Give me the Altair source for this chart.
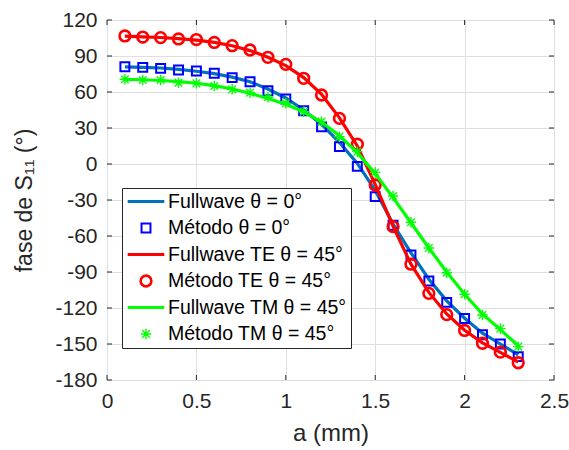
import altair as alt
import pandas as pd

# ---------------- data ----------------
a_mm = [0.1, 0.2, 0.3, 0.4, 0.5, 0.6, 0.7, 0.8, 0.9, 1.0, 1.1, 1.2,
        1.3, 1.4, 1.5, 1.6, 1.7, 1.8, 1.9, 2.0, 2.1, 2.2, 2.3]

fw_0 = [81, 80.6, 80, 78.8, 77.3, 75.3, 72.4, 68.5, 62.5, 55, 45, 33,
        18, 0.5, -22, -50, -74, -96, -114, -128.5, -141, -150, -159]
met_0 = [81, 80.5, 79.7, 78.3, 77.5, 75.6, 72, 68.6, 61.1, 54.2, 44.4, 31.1,
         14.5, -2, -27.2, -51, -75.8, -97.5, -115.3, -128.8, -142.3, -150, -160.5]

fw_te = [106.5, 106, 105.4, 104.4, 103.2, 101.3, 98.5, 94.5, 89, 82, 72, 58,
         38.5, 15, -17, -52, -83.5, -107, -125, -138.5, -149, -157, -165]
met_te = [106.7, 105.8, 105.3, 104.2, 103.7, 101.3, 98.6, 95, 88.9, 83, 71.4, 57.5,
          38, 16.5, -17.5, -52.2, -83.5, -107.8, -125.5, -138.7, -149.4, -156.8, -165.6]

fw_tm = [70.5, 70.2, 69.6, 68.6, 67.3, 65.3, 62.5, 59, 54.6, 49.8, 43.5, 35,
         23.5, 9.5, -8, -28, -49, -70, -90, -108.5, -125, -138, -151.5]
met_tm = [70.6, 70, 70, 67.8, 67.2, 65, 62.2, 59.4, 55.6, 50.6, 43.6, 35.3,
          22.8, 10.3, -7, -26.7, -48.5, -70, -90.6, -108.5, -125.8, -137.2, -152.2]

series_names = ["Fullwave θ = 0°", "Método θ = 0°",
                "Fullwave TE θ = 45°", "Método TE θ = 45°",
                "Fullwave TM θ = 45°", "Método TM θ = 45°"]
series_values = [fw_0, met_0, fw_te, met_te, fw_tm, met_tm]

x_ticks = [0, 0.5, 1, 1.5, 2, 2.5]
y_ticks = [-180, -150, -120, -90, -60, -30, 0, 30, 60, 90, 120]

# ---------------- styles ----------------
colors = ["#0072BD", "#0000FF", "#FF0000", "#FF0000", "#00FF00", "#00FF00"]
asterisk = "M-1,0L1,0M0,-1L0,1M-0.72,-0.72L0.72,0.72M-0.72,0.72L0.72,-0.72"
shapes = ["stroke", "square", "stroke", "circle", "stroke", asterisk]
sizes = [1340, 80, 1340, 115, 1340, 110]
widths = [3.2, 2, 3.2, 2.6, 3.2, 1.4]
FONT = "Liberation Sans"
AX = "#262626"
W, H = 447, 360

rows = []
for name, vals in zip(series_names, series_values):
    for x, y in zip(a_mm, vals):
        rows.append({"a": x, "fase": y, "serie": name})
df = pd.DataFrame(rows)

xscale = alt.Scale(domain=[0, 2.5], nice=False, zero=False)
yscale = alt.Scale(domain=[-180, 120], nice=False, zero=False)
cscale = alt.Scale(domain=series_names, range=colors)
sscale = alt.Scale(domain=series_names, range=shapes)
zscale = alt.Scale(type="ordinal", domain=series_names, range=sizes)
wscale = alt.Scale(type="ordinal", domain=series_names, range=widths)

leg = alt.Legend(
    title=None, orient="none", legendX=15, legendY=168,
    fillColor="white", strokeColor=AX, padding=4,
    labelFont=FONT, labelFontSize=19.5, labelColor="#000000", labelLimit=400,
    symbolOffset=0, labelOffset=2, rowPadding=6.5, clipHeight=19,
    symbolFillColor="transparent",
)

xaxis = alt.Axis(
    values=x_ticks, title="a (mm)", grid=True, gridColor="#dfdfdf",
    ticks=False, domain=False, labelFont=FONT, labelFontSize=21,
    labelColor=AX, labelPadding=10, labelFlush=False, labelOverlap=False,
    labelExpr="toString(datum.value)",
    titleFont=FONT, titleFontSize=24, titleFontWeight="normal",
    titleColor=AX, titlePadding=10)
yaxis = alt.Axis(
    values=y_ticks, title="fase de S₁₁ (°)", grid=True, gridColor="#dfdfdf",
    ticks=False, domain=False, labelFont=FONT, labelFontSize=21,
    labelColor=AX, labelPadding=10, labelFlush=False, labelOverlap=False,
    labelExpr="toString(datum.value)",
    titleFont=FONT, titleFontSize=23, titleFontWeight="normal",
    titleColor=AX, titlePadding=18)

xenc = alt.X("a:Q", scale=xscale, axis=xaxis)
yenc = alt.Y("fase:Q", scale=yscale, axis=yaxis)

base = alt.Chart(df)


def line_layer(name):
    return base.transform_filter(alt.datum.serie == name).mark_line().encode(
        x=xenc, y=yenc,
        color=alt.Color("serie:N", scale=cscale, legend=leg),
        strokeWidth=alt.StrokeWidth("serie:N", scale=wscale, legend=leg),
        order="a:Q")


def point_layer(name):
    return base.transform_filter(alt.datum.serie == name).mark_point(
        filled=False, opacity=1).encode(
        x=xenc, y=yenc,
        color=alt.Color("serie:N", scale=cscale, legend=leg),
        shape=alt.Shape("serie:N", scale=sscale, legend=leg),
        size=alt.Size("serie:N", scale=zscale, legend=leg),
        strokeWidth=alt.StrokeWidth("serie:N", scale=wscale, legend=leg))


# inward tick marks on all four sides of the box (MATLAB style)
tx = pd.DataFrame({"t": x_ticks})
ty = pd.DataFrame({"t": y_ticks})
tick_b = alt.Chart(tx).mark_rule(color=AX, strokeWidth=1).encode(
    x=alt.X("t:Q", scale=xscale, axis=xaxis), y=alt.value(H), y2=alt.value(H - 5))
tick_t = alt.Chart(tx).mark_rule(color=AX, strokeWidth=1).encode(
    x=alt.X("t:Q", scale=xscale, axis=xaxis), y=alt.value(0), y2=alt.value(5))
tick_l = alt.Chart(ty).mark_rule(color=AX, strokeWidth=1).encode(
    y=alt.Y("t:Q", scale=yscale, axis=yaxis), x=alt.value(0), x2=alt.value(5))
tick_r = alt.Chart(ty).mark_rule(color=AX, strokeWidth=1).encode(
    y=alt.Y("t:Q", scale=yscale, axis=yaxis), x=alt.value(W), x2=alt.value(W - 5))

chart = alt.layer(
    line_layer(series_names[0]),
    point_layer(series_names[1]),
    line_layer(series_names[2]),
    point_layer(series_names[3]),
    line_layer(series_names[4]),
    point_layer(series_names[5]),
    tick_b, tick_t, tick_l, tick_r,
).properties(
    width=W, height=H,
    padding={"left": 107, "top": 20, "right": 15, "bottom": 70},
    autosize=alt.AutoSizeParams(type="none"),
).configure_view(stroke=AX, strokeWidth=1.2).configure(background="white")

chart.save("out.html", embed_options={"renderer": "svg", "actions": False})
